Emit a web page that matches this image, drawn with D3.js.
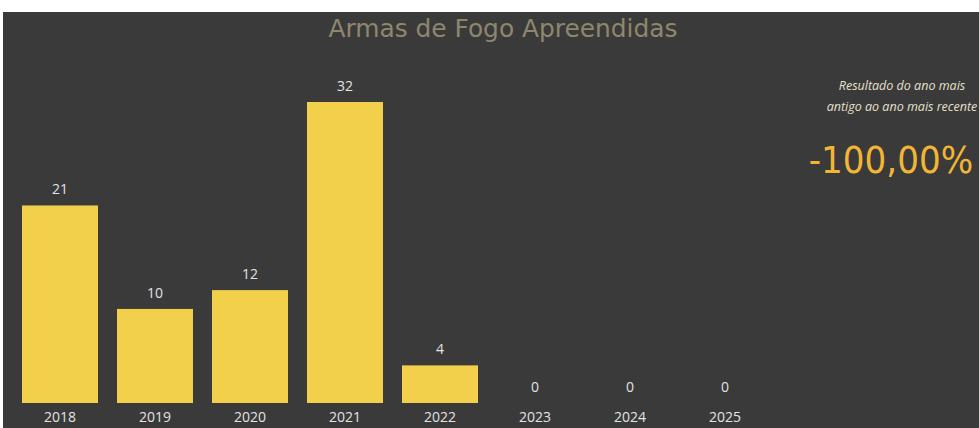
<!DOCTYPE html>
<html>
<head>
<meta charset="utf-8">
<script src="https://cdn.jsdelivr.net/npm/d3@7"></script>
<style>
  body { margin: 0; background: #ffffff; }
  svg { display: block; }
</style>
</head>
<body>
<svg id="chart" width="979" height="428"></svg>
<script>
var years = ["2018", "2019", "2020", "2021", "2022", "2023", "2024", "2025"];  // categories
var seized = [21, 10, 12, 32, 4, 0, 0, 0];                                     // values
var changeLabel = "-100,00%";
var noteLines = ["Resultado do ano mais", "antigo ao ano mais recente"];

var w = 979, h = 428;
var svg = d3.select("#chart");

// dark panel (white strip top and left like the screenshot)
svg.append("rect")
   .attr("x", 3).attr("y", 12)
   .attr("width", w - 3).attr("height", h - 12)
   .attr("fill", "#3a3a3a");

var xScale = d3.scaleBand()
  .domain(years)
  .range([12.5, 772.5])
  .paddingInner(0.2)
  .paddingOuter(0.1);

var yScale = d3.scaleLinear()
  .domain([0, 32])
  .range([403, 102]);

// title
svg.append("text")
   .attr("x", 503).attr("y", 37)
   .attr("text-anchor", "middle")
   .attr("font-family", "DejaVu Sans Condensed, DejaVu Sans")
   .attr("font-stretch", "condensed")
   .attr("font-size", 25)
   .attr("textLength", 349)
   .attr("lengthAdjust", "spacingAndGlyphs")
   .attr("fill", "#8e876c")
   .text("Armas de Fogo Apreendidas");

// bars
svg.selectAll("rect.bar")
   .data(seized)
   .enter()
   .append("rect")
   .attr("class", "bar")
   .attr("x", function(d, i) { return xScale(years[i]); })
   .attr("y", function(d) { return yScale(d); })
   .attr("width", xScale.bandwidth())
   .attr("height", function(d) { return yScale(0) - yScale(d); })
   .attr("fill", "#f2d04b");

// value labels
svg.selectAll("text.val")
   .data(seized)
   .enter()
   .append("text")
   .attr("class", "val")
   .attr("x", function(d, i) { return xScale(years[i]) + xScale.bandwidth() / 2; })
   .attr("y", function(d) { return yScale(d) - 11; })
   .attr("text-anchor", "middle")
   .attr("font-family", "Open Sans, sans-serif")
   .attr("font-size", 14)
   .attr("fill", "#e2e2e2")
   .text(function(d) { return d; });

// x axis
var xAxis = d3.axisBottom(xScale).tickSize(0).tickPadding(9);
var gx = svg.append("g")
   .attr("transform", "translate(0,403)")
   .call(xAxis);
gx.select(".domain").remove();
gx.selectAll("text")
   .attr("font-family", "Open Sans, sans-serif")
   .attr("font-size", 14)
   .attr("fill", "#e2e2e2");

// side note
svg.selectAll("text.note")
   .data(noteLines)
   .enter()
   .append("text")
   .attr("class", "note")
   .attr("x", 902)
   .attr("y", function(d, i) { return 90 + i * 21; })
   .attr("text-anchor", "middle")
   .attr("font-family", "Open Sans, sans-serif")
   .attr("font-style", "italic")
   .attr("font-size", 12.5)
   .attr("fill", "#e6e0cc")
   .text(function(d) { return d; });

svg.append("text")
   .attr("x", 891).attr("y", 173)
   .attr("text-anchor", "middle")
   .attr("font-family", "DejaVu Sans Condensed, DejaVu Sans")
   .attr("font-stretch", "condensed")
   .attr("font-size", 38)
   .attr("fill", "#f3b634")
   .text(changeLabel);
</script>
</body>
</html>
